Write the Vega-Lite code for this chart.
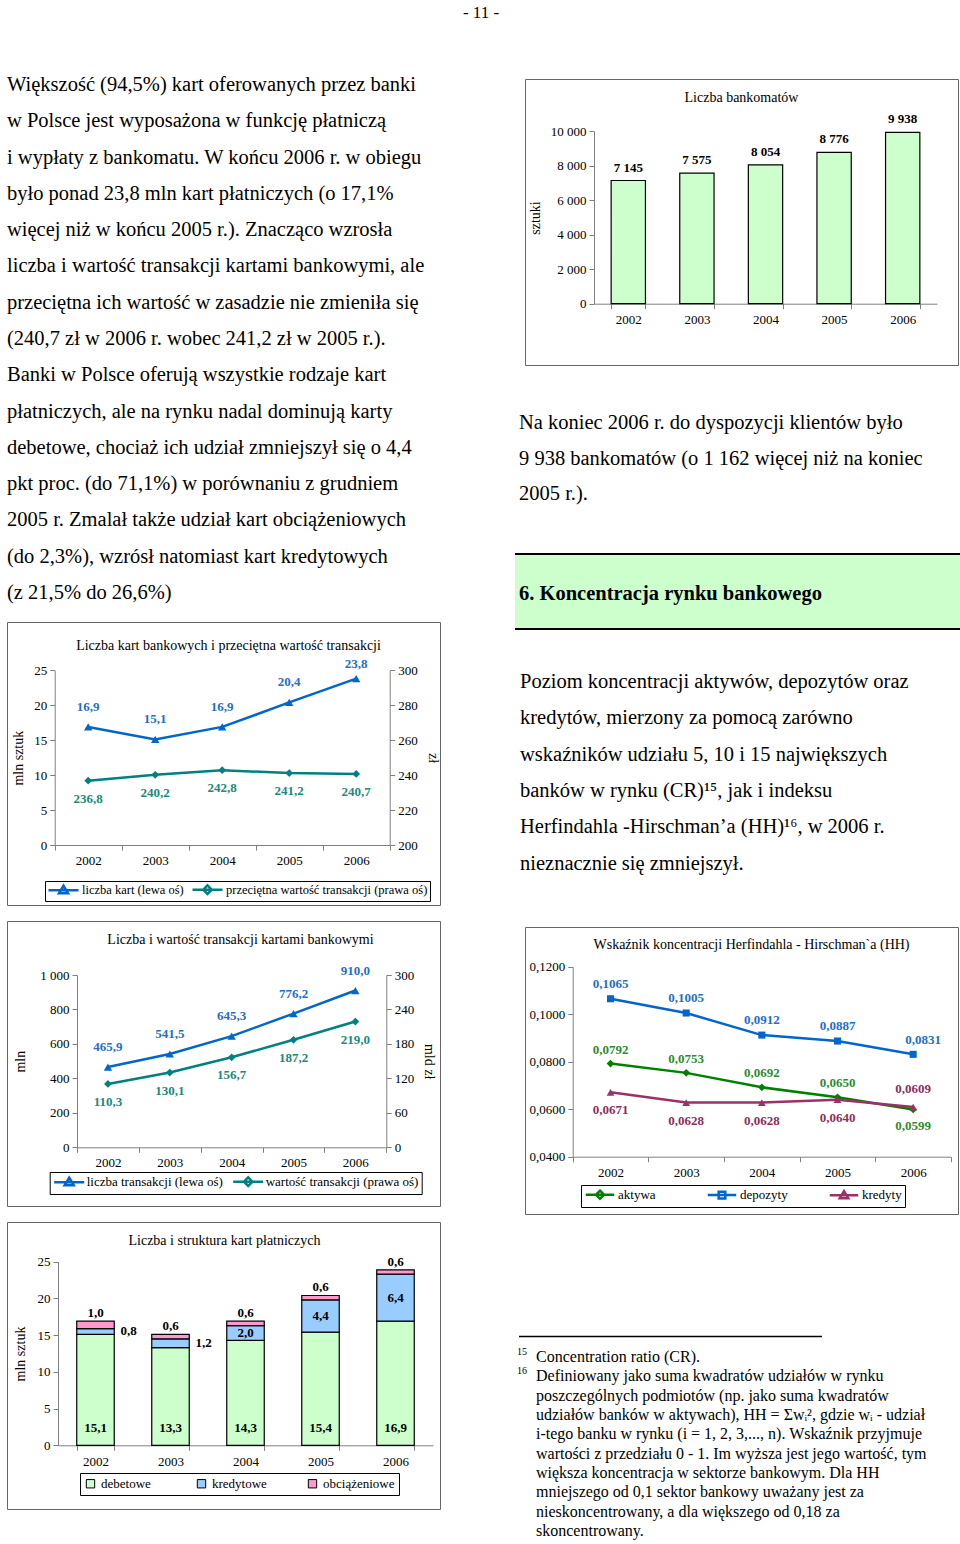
{
"$schema": "https://vega.github.io/schema/vega-lite/v6.json",
"padding": {"left": 6, "top": 0, "right": 2, "bottom": 0},
"config": {
  "font": "Liberation Serif",
  "view": {"stroke": null},
  "axis": {"labelFont": "Liberation Serif", "labelFontSize": 13, "labelColor": "#000", "titleFont": "Liberation Serif", "titleFontSize": 14, "titleFontWeight": "normal", "titleColor": "#000", "domainColor": "#808080", "tickColor": "#808080", "tickSize": 5, "grid": false, "labelPadding": 3},
  "legend": {"labelFont": "Liberation Serif", "labelFontSize": 13, "labelColor": "#000", "labelLimit": 400},
  "title": {"font": "Liberation Serif", "fontSize": 14, "fontWeight": "normal", "color": "#000", "anchor": "middle"},
  "text": {"font": "Liberation Serif", "color": "#000"},
  "locale": {"number": {"decimal": ",", "thousands": " ", "grouping": [3], "currency": ["", ""]}}
},
"spacing": 0,
"resolve": {"scale": {"fill": "independent", "stroke": "independent", "shape": "independent", "color": "independent"}, "legend": {"fill": "independent", "stroke": "independent", "shape": "independent", "color": "independent"}},
"vconcat": [
  {
    "width": 950, "height": 40,
    "data": {"values": [{"t": "- 11 -"}]},
    "mark": {"type": "text", "fontSize": 17, "align": "center", "baseline": "middle"},
    "encoding": {"text": {"field": "t"}, "x": {"value": 474}, "y": {"value": 13}}
  },
  {
    "spacing": 57,
    "resolve": {"scale": {"fill": "independent", "stroke": "independent", "shape": "independent", "color": "independent"}, "legend": {"fill": "independent", "stroke": "independent", "shape": "independent", "color": "independent"}},
    "hconcat": [
      {
        "spacing": 14,
        "resolve": {"scale": {"fill": "independent", "stroke": "independent", "shape": "independent", "color": "independent"}, "legend": {"fill": "independent", "stroke": "independent", "shape": "independent", "color": "independent"}},
        "vconcat": [
          {
            "width": 450, "height": 567,
            "data": {"values": [
              {"linia": 1, "tekst": "Większość (94,5%) kart oferowanych przez banki"},
              {"linia": 2, "tekst": "w Polsce jest wyposażona w funkcję płatniczą"},
              {"linia": 3, "tekst": "i wypłaty z bankomatu. W końcu 2006 r. w obiegu"},
              {"linia": 4, "tekst": "było ponad 23,8 mln kart płatniczych (o 17,1%"},
              {"linia": 5, "tekst": "więcej niż w końcu 2005 r.). Znacząco wzrosła"},
              {"linia": 6, "tekst": "liczba i wartość transakcji kartami bankowymi, ale"},
              {"linia": 7, "tekst": "przeciętna ich wartość w zasadzie nie zmieniła się"},
              {"linia": 8, "tekst": "(240,7 zł w 2006 r. wobec 241,2 zł w 2005 r.)."},
              {"linia": 9, "tekst": "Banki w Polsce oferują wszystkie rodzaje kart"},
              {"linia": 10, "tekst": "płatniczych, ale na rynku nadal dominują karty"},
              {"linia": 11, "tekst": "debetowe, chociaż ich udział zmniejszył się o 4,4"},
              {"linia": 12, "tekst": "pkt proc. (do 71,1%) w porównaniu z grudniem"},
              {"linia": 13, "tekst": "2005 r. Zmalał także udział kart obciążeniowych"},
              {"linia": 14, "tekst": "(do 2,3%), wzrósł natomiast kart kredytowych"},
              {"linia": 15, "tekst": "(z 21,5% do 26,6%)"}
            ]},
            "mark": {"type": "text", "align": "left", "baseline": "middle", "fontSize": 20.5},
            "encoding": {
              "x": {"value": 0},
              "y": {"field": "linia", "type": "quantitative", "scale": {"domain": [1, 15], "range": [45, 553]}, "axis": null},
              "text": {"field": "tekst"}
            }
          },
          {
            "width": 433, "height": 283,
            "view": {"stroke": "#666"},
            "title": {"text": "Liczba kart bankowych i przeciętna wartość transakcji", "offset": -31, "dx": 5},
            "data": {"values": [
              {"rok": "2002", "seria": "liczba kart (lewa oś)", "w": 16.9},
              {"rok": "2003", "seria": "liczba kart (lewa oś)", "w": 15.1},
              {"rok": "2004", "seria": "liczba kart (lewa oś)", "w": 16.9},
              {"rok": "2005", "seria": "liczba kart (lewa oś)", "w": 20.4},
              {"rok": "2006", "seria": "liczba kart (lewa oś)", "w": 23.8},
              {"rok": "2002", "seria": "przeciętna wartość transakcji (prawa oś)", "w": 236.8},
              {"rok": "2003", "seria": "przeciętna wartość transakcji (prawa oś)", "w": 240.2},
              {"rok": "2004", "seria": "przeciętna wartość transakcji (prawa oś)", "w": 242.8},
              {"rok": "2005", "seria": "przeciętna wartość transakcji (prawa oś)", "w": 241.2},
              {"rok": "2006", "seria": "przeciętna wartość transakcji (prawa oś)", "w": 240.7}
            ]},
            "encoding": {
              "x": {"field": "rok", "type": "ordinal", "bandPosition": 0.5, "scale": {"type": "band", "range": [47.7, 382.7], "paddingInner": 0, "paddingOuter": 0}, "axis": {"title": null, "labelAngle": 0, "tickBand": "extent", "offset": -60, "labelPadding": 4}}
            },
            "layer": [
              {
                "transform": [{"filter": "datum.seria == 'liczba kart (lewa oś)'"}],
                "encoding": {"y": {"field": "w", "type": "quantitative", "scale": {"domain": [0, 25], "range": [223, 48.3], "nice": false, "zero": false}, "axis": {"title": "mln sztuk", "offset": -47.7, "values": [0, 5, 10, 15, 20, 25], "titlePadding": 8}}},
                "layer": [
                  {"mark": {"type": "line", "color": "#0066cc", "strokeWidth": 2.5, "point": {"shape": "triangle-up", "size": 70, "filled": true, "color": "#0066cc"}}},
                  {"transform": [{"filter": "datum.rok != '2006'"}], "mark": {"type": "text", "color": "#1f6fc8", "fontWeight": "bold", "fontSize": 13, "baseline": "middle", "dy": -20}, "encoding": {"text": {"field": "w", "format": ".1f"}}},
                  {"transform": [{"filter": "datum.rok == '2006'"}], "mark": {"type": "text", "color": "#1f6fc8", "fontWeight": "bold", "fontSize": 13, "baseline": "middle", "dy": -15}, "encoding": {"text": {"field": "w", "format": ".1f"}}}
                ]
              },
              {
                "transform": [{"filter": "datum.seria != 'liczba kart (lewa oś)'"}],
                "encoding": {"y": {"field": "w", "type": "quantitative", "scale": {"domain": [200, 300], "range": [223, 48.3], "nice": false, "zero": false}, "axis": {"title": "zł", "orient": "right", "offset": -50.3, "values": [200, 220, 240, 260, 280, 300], "titlePadding": 8}}},
                "layer": [
                  {"mark": {"type": "line", "color": "#008080", "strokeWidth": 2.5, "point": {"shape": "diamond", "size": 60, "filled": true, "color": "#008080"}}},
                  {"mark": {"type": "text", "color": "#1a8a7e", "fontWeight": "bold", "fontSize": 13, "baseline": "middle", "dy": 18}, "encoding": {"text": {"field": "w", "format": ".1f"}}}
                ]
              },
              {
                "mark": {"type": "point", "opacity": 0, "filled": true},
                "encoding": {
                  "fill": {"field": "seria", "type": "nominal", "scale": {"domain": ["liczba kart (lewa oś)", "przeciętna wartość transakcji (prawa oś)"], "range": ["#0066cc", "#008080"]},
                    "legend": {"orient": "none", "legendX": 38, "legendY": 259, "direction": "horizontal", "title": null, "strokeColor": "#000", "padding": 2, "columnPadding": 3, "symbolSize": 100, "symbolStrokeWidth": 2.5, "symbolOpacity": 1, "labelOffset": 22, "labelFontSize": 12.5}},
                  "stroke": {"field": "seria", "type": "nominal", "scale": {"domain": ["liczba kart (lewa oś)", "przeciętna wartość transakcji (prawa oś)"], "range": ["#0066cc", "#008080"]}},
                  "shape": {"field": "seria", "type": "nominal", "scale": {"domain": ["liczba kart (lewa oś)", "przeciętna wartość transakcji (prawa oś)"], "range": ["M-1,0H5M2,-0.9L2.9,0.6L1.1,0.6Z", "M-1,0H5M2,-0.85L2.85,0L2,0.85L1.15,0Z"]}}
                }
              }
            ],
            "resolve": {"scale": {"y": "independent"}}
          },
          {
            "width": 433, "height": 285,
            "view": {"stroke": "#666"},
            "title": {"text": "Liczba i wartość transakcji kartami bankowymi", "offset": -26, "dx": 17},
            "data": {"values": [
              {"rok": "2002", "seria": "liczba transakcji (lewa oś)", "w": 465.9},
              {"rok": "2003", "seria": "liczba transakcji (lewa oś)", "w": 541.5},
              {"rok": "2004", "seria": "liczba transakcji (lewa oś)", "w": 645.3},
              {"rok": "2005", "seria": "liczba transakcji (lewa oś)", "w": 776.2},
              {"rok": "2006", "seria": "liczba transakcji (lewa oś)", "w": 910.0},
              {"rok": "2002", "seria": "wartość transakcji (prawa oś)", "w": 110.3},
              {"rok": "2003", "seria": "wartość transakcji (prawa oś)", "w": 130.1},
              {"rok": "2004", "seria": "wartość transakcji (prawa oś)", "w": 156.7},
              {"rok": "2005", "seria": "wartość transakcji (prawa oś)", "w": 187.2},
              {"rok": "2006", "seria": "wartość transakcji (prawa oś)", "w": 219.0}
            ]},
            "encoding": {
              "x": {"field": "rok", "type": "ordinal", "bandPosition": 0.5, "scale": {"type": "band", "range": [70, 379.3], "paddingInner": 0, "paddingOuter": 0}, "axis": {"title": null, "labelAngle": 0, "tickBand": "extent", "offset": -58.7, "labelPadding": 4}}
            },
            "layer": [
              {
                "transform": [{"filter": "datum.seria == 'liczba transakcji (lewa oś)'"}],
                "encoding": {"y": {"field": "w", "type": "quantitative", "scale": {"domain": [0, 1000], "range": [226.3, 54], "nice": false}, "axis": {"title": "mln", "offset": -70, "values": [0, 200, 400, 600, 800, 1000], "format": ",d", "titlePadding": 12}}},
                "layer": [
                  {"mark": {"type": "line", "color": "#0066cc", "strokeWidth": 2.5, "point": {"shape": "triangle-up", "size": 70, "filled": true, "color": "#0066cc"}}},
                  {"mark": {"type": "text", "color": "#1f6fc8", "fontWeight": "bold", "fontSize": 13, "baseline": "middle", "dy": -20}, "encoding": {"text": {"field": "w", "format": ".1f"}}}
                ]
              },
              {
                "transform": [{"filter": "datum.seria != 'liczba transakcji (lewa oś)'"}],
                "encoding": {"y": {"field": "w", "type": "quantitative", "scale": {"domain": [0, 300], "range": [226.3, 54], "nice": false}, "axis": {"title": "mld zł", "orient": "right", "offset": -53.7, "values": [0, 60, 120, 180, 240, 300], "titlePadding": 8}}},
                "layer": [
                  {"mark": {"type": "line", "color": "#008080", "strokeWidth": 2.5, "point": {"shape": "diamond", "size": 60, "filled": true, "color": "#008080"}}},
                  {"mark": {"type": "text", "color": "#1a8a7e", "fontWeight": "bold", "fontSize": 13, "baseline": "middle", "dy": 18}, "encoding": {"text": {"field": "w", "format": ".1f"}}}
                ]
              },
              {
                "mark": {"type": "point", "opacity": 0, "filled": true},
                "encoding": {
                  "fill": {"field": "seria", "type": "nominal", "scale": {"domain": ["liczba transakcji (lewa oś)", "wartość transakcji (prawa oś)"], "range": ["#0066cc", "#008080"]},
                    "legend": {"orient": "none", "legendX": 42.7, "legendY": 251, "direction": "horizontal", "title": null, "strokeColor": "#000", "padding": 3, "columnPadding": 4, "symbolSize": 100, "symbolStrokeWidth": 2.5, "symbolOpacity": 1, "labelOffset": 21}},
                  "stroke": {"field": "seria", "type": "nominal", "scale": {"domain": ["liczba transakcji (lewa oś)", "wartość transakcji (prawa oś)"], "range": ["#0066cc", "#008080"]}},
                  "shape": {"field": "seria", "type": "nominal", "scale": {"domain": ["liczba transakcji (lewa oś)", "wartość transakcji (prawa oś)"], "range": ["M-1,0H5M2,-0.9L2.9,0.6L1.1,0.6Z", "M-1,0H5M2,-0.85L2.85,0L2,0.85L1.15,0Z"]}}
                }
              }
            ],
            "resolve": {"scale": {"y": "independent"}}
          },
          {
            "width": 433, "height": 287,
            "view": {"stroke": "#666"},
            "title": {"text": "Liczba i struktura kart płatniczych", "offset": -26, "dx": 1},
            "data": {"values": [
              {"rok": "2002", "typ": "debetowe", "w": 15.1},
              {"rok": "2003", "typ": "debetowe", "w": 13.3},
              {"rok": "2004", "typ": "debetowe", "w": 14.3},
              {"rok": "2005", "typ": "debetowe", "w": 15.4},
              {"rok": "2006", "typ": "debetowe", "w": 16.9},
              {"rok": "2002", "typ": "kredytowe", "w": 0.8},
              {"rok": "2003", "typ": "kredytowe", "w": 1.2},
              {"rok": "2004", "typ": "kredytowe", "w": 2.0},
              {"rok": "2005", "typ": "kredytowe", "w": 4.4},
              {"rok": "2006", "typ": "kredytowe", "w": 6.4},
              {"rok": "2002", "typ": "obciążeniowe", "w": 1.0},
              {"rok": "2003", "typ": "obciążeniowe", "w": 0.6},
              {"rok": "2004", "typ": "obciążeniowe", "w": 0.6},
              {"rok": "2005", "typ": "obciążeniowe", "w": 0.6},
              {"rok": "2006", "typ": "obciążeniowe", "w": 0.6}
            ]},
            "transform": [{"stack": "w", "groupby": ["rok"], "sort": [{"field": "typ", "order": "ascending"}], "as": ["v0", "v1"]}],
            "layer": [
              {
                "mark": {"type": "bar", "stroke": "#000", "strokeWidth": 1.2},
                "encoding": {
                  "x": {"field": "rok", "type": "ordinal", "scale": {"type": "band", "range": [51, 426], "paddingInner": 0.5, "paddingOuter": 0.25}, "axis": {"title": null, "labelAngle": 0, "tickBand": "extent", "offset": -63.7, "labelPadding": 5}},
                  "y": {"field": "v1", "type": "quantitative", "scale": {"domain": [0, 25], "range": [223.3, 39.7], "nice": false}, "axis": {"title": "mln sztuk", "offset": -51, "values": [0, 5, 10, 15, 20, 25], "titlePadding": 10}},
                  "y2": {"field": "v0"},
                  "fill": {"field": "typ", "type": "nominal", "scale": {"domain": ["debetowe", "kredytowe", "obciążeniowe"], "range": ["#ccffcc", "#99ccff", "#ff99cc"]},
                    "legend": {"orient": "none", "legendX": 73, "legendY": 251, "direction": "horizontal", "title": null, "strokeColor": "#000", "padding": 4, "columnPadding": 22, "gridAlign": "all", "symbolType": "square", "symbolSize": 70, "symbolStrokeColor": "#000", "symbolStrokeWidth": 1}}
                }
              },
              {
                "transform": [{"filter": "datum.typ == 'debetowe'"}],
                "mark": {"type": "text", "fontWeight": "bold", "fontSize": 13, "baseline": "middle", "dy": -17},
                "encoding": {
                  "x": {"field": "rok", "type": "ordinal", "bandPosition": 0.5},
                  "y": {"field": "v0", "type": "quantitative"},
                  "text": {"field": "w", "format": ".1f"}
                }
              },
              {
                "transform": [
                  {"filter": "datum.typ == 'kredytowe' && datum.rok >= '2004'"},
                  {"fold": ["v0", "v1"], "as": ["k", "v"]},
                  {"aggregate": [{"op": "mean", "field": "v", "as": "mid"}], "groupby": ["rok", "w"]}
                ],
                "mark": {"type": "text", "fontWeight": "bold", "fontSize": 13, "baseline": "middle"},
                "encoding": {
                  "x": {"field": "rok", "type": "ordinal", "bandPosition": 0.5},
                  "y": {"field": "mid", "type": "quantitative"},
                  "text": {"field": "w", "format": ".1f"}
                }
              },
              {
                "transform": [
                  {"filter": "datum.typ == 'kredytowe' && datum.rok < '2004'"},
                  {"fold": ["v0", "v1"], "as": ["k", "v"]},
                  {"aggregate": [{"op": "mean", "field": "v", "as": "mid"}], "groupby": ["rok", "w"]}
                ],
                "mark": {"type": "text", "fontWeight": "bold", "fontSize": 13, "baseline": "middle", "dx": 33},
                "encoding": {
                  "x": {"field": "rok", "type": "ordinal", "bandPosition": 0.5},
                  "y": {"field": "mid", "type": "quantitative"},
                  "text": {"field": "w", "format": ".1f"}
                }
              },
              {
                "transform": [{"filter": "datum.typ == 'obciążeniowe'"}],
                "mark": {"type": "text", "fontWeight": "bold", "fontSize": 13, "baseline": "middle", "dy": -8},
                "encoding": {
                  "x": {"field": "rok", "type": "ordinal", "bandPosition": 0.5},
                  "y": {"field": "v1", "type": "quantitative"},
                  "text": {"field": "w", "format": ".1f"}
                }
              }
            ]
          }
        ]
      },
      {
        "spacing": 0,
        "resolve": {"scale": {"fill": "independent", "stroke": "independent", "shape": "independent", "color": "independent"}, "legend": {"fill": "independent", "stroke": "independent", "shape": "independent", "color": "independent"}},
        "vconcat": [
          {"width": 10, "height": 38, "data": {"values": []}, "mark": "point"},
          {
            "spacing": 0,
            "hconcat": [
              {"width": 9, "height": 20, "data": {"values": []}, "mark": "point"},
              {
                "width": 433, "height": 286,
                "view": {"stroke": "#666"},
                "title": {"text": "Liczba bankomatów", "offset": -26},
                "data": {"values": [
                  {"rok": "2002", "liczba": 7145},
                  {"rok": "2003", "liczba": 7575},
                  {"rok": "2004", "liczba": 8054},
                  {"rok": "2005", "liczba": 8776},
                  {"rok": "2006", "liczba": 9938}
                ]},
                "layer": [
                  {
                    "mark": {"type": "bar", "fill": "#ccffcc", "stroke": "#000", "strokeWidth": 1.2},
                    "encoding": {
                      "x": {"field": "rok", "type": "ordinal", "scale": {"type": "band", "range": [69, 412], "paddingInner": 0.5, "paddingOuter": 0.25}, "axis": {"title": null, "labelAngle": 0, "tickBand": "extent", "offset": -61.3, "labelPadding": 5}},
                      "y": {"field": "liczba", "type": "quantitative", "scale": {"domain": [0, 10000], "range": [224.7, 52.3], "nice": false}, "axis": {"title": "sztuki", "offset": -69, "values": [0, 2000, 4000, 6000, 8000, 10000], "format": ",d", "titlePadding": 8}}
                    }
                  },
                  {
                    "mark": {"type": "text", "fontWeight": "bold", "fontSize": 13, "baseline": "middle", "dy": -13},
                    "encoding": {
                      "x": {"field": "rok", "type": "ordinal", "bandPosition": 0.5},
                      "y": {"field": "liczba", "type": "quantitative"},
                      "text": {"field": "liczba", "format": ",d"}
                    }
                  }
                ]
              }
            ]
          },
          {
            "width": 445, "height": 187,
            "data": {"values": [
              {"linia": 1, "tekst": "Na koniec 2006 r. do dyspozycji klientów było"},
              {"linia": 2, "tekst": "9 938 bankomatów (o 1 162 więcej niż na koniec"},
              {"linia": 3, "tekst": "2005 r.)."}
            ]},
            "mark": {"type": "text", "align": "left", "baseline": "middle", "fontSize": 20.5},
            "encoding": {
              "x": {"value": 4},
              "y": {"field": "linia", "type": "quantitative", "scale": {"domain": [1, 3], "range": [57, 128]}, "axis": null},
              "text": {"field": "tekst"}
            }
          },
          {
            "width": 445, "height": 77,
            "view": {"fill": "#ccffcc", "stroke": null},
            "layer": [
              {
                "data": {"values": [{"tekst": "6. Koncentracja rynku bankowego"}]},
                "mark": {"type": "text", "align": "left", "baseline": "middle", "fontSize": 20.5, "fontWeight": "bold"},
                "encoding": {"x": {"value": 4}, "y": {"value": 41}, "text": {"field": "tekst"}}
              },
              {
                "data": {"values": [{}]},
                "mark": {"type": "rule", "color": "#000", "strokeWidth": 2},
                "encoding": {"y": {"value": 1}}
              },
              {
                "data": {"values": [{}]},
                "mark": {"type": "rule", "color": "#000", "strokeWidth": 2},
                "encoding": {"y": {"value": 76}}
              }
            ]
          },
          {
            "width": 445, "height": 296,
            "data": {"values": [
              {"linia": 1, "tekst": "Poziom koncentracji aktywów, depozytów oraz"},
              {"linia": 2, "tekst": "kredytów, mierzony za pomocą zarówno"},
              {"linia": 3, "tekst": "wskaźników udziału 5, 10 i 15 największych"},
              {"linia": 4, "tekst": "banków w rynku (CR)¹⁵, jak i indeksu"},
              {"linia": 5, "tekst": "Herfindahla -Hirschman’a (HH)¹⁶, w 2006 r."},
              {"linia": 6, "tekst": "nieznacznie się zmniejszył."}
            ]},
            "mark": {"type": "text", "align": "left", "baseline": "middle", "fontSize": 20.5},
            "encoding": {
              "x": {"value": 5},
              "y": {"field": "linia", "type": "quantitative", "scale": {"domain": [1, 6], "range": [52, 233.5]}, "axis": null},
              "text": {"field": "tekst"}
            }
          },
          {
            "spacing": 0,
            "hconcat": [
              {"width": 9, "height": 20, "data": {"values": []}, "mark": "point"},
              {
                "width": 433, "height": 287,
                "view": {"stroke": "#666"},
                "title": {"text": "Wskaźnik koncentracji Herfindahla - Hirschman`a (HH)", "offset": -25, "dx": 10},
                "data": {"values": [
                  {"rok": "2002", "seria": "aktywa", "w": 0.0792},
                  {"rok": "2003", "seria": "aktywa", "w": 0.0753},
                  {"rok": "2004", "seria": "aktywa", "w": 0.0692},
                  {"rok": "2005", "seria": "aktywa", "w": 0.0650},
                  {"rok": "2006", "seria": "aktywa", "w": 0.0599},
                  {"rok": "2002", "seria": "depozyty", "w": 0.1065},
                  {"rok": "2003", "seria": "depozyty", "w": 0.1005},
                  {"rok": "2004", "seria": "depozyty", "w": 0.0912},
                  {"rok": "2005", "seria": "depozyty", "w": 0.0887},
                  {"rok": "2006", "seria": "depozyty", "w": 0.0831},
                  {"rok": "2002", "seria": "kredyty", "w": 0.0671},
                  {"rok": "2003", "seria": "kredyty", "w": 0.0628},
                  {"rok": "2004", "seria": "kredyty", "w": 0.0628},
                  {"rok": "2005", "seria": "kredyty", "w": 0.0640},
                  {"rok": "2006", "seria": "kredyty", "w": 0.0609}
                ]},
                "encoding": {
                  "x": {"field": "rok", "type": "ordinal", "bandPosition": 0.5, "scale": {"type": "band", "range": [47.7, 426], "paddingInner": 0, "paddingOuter": 0}, "axis": {"title": null, "labelAngle": 0, "tickBand": "extent", "offset": -57.3, "labelPadding": 5}},
                  "y": {"field": "w", "type": "quantitative", "scale": {"domain": [0.04, 0.12], "range": [229.7, 39.7], "nice": false, "zero": false}, "axis": {"title": null, "offset": -47.7, "values": [0.04, 0.06, 0.08, 0.1, 0.12], "format": ".4f"}}
                },
                "layer": [
                  {
                    "transform": [{"filter": "datum.seria == 'depozyty'"}],
                    "layer": [
                      {"mark": {"type": "line", "color": "#0066cc", "strokeWidth": 2.5, "point": {"shape": "square", "size": 50, "filled": true, "color": "#0066cc"}}},
                      {"transform": [{"filter": "datum.rok != '2006'"}], "mark": {"type": "text", "color": "#1f6fc8", "fontWeight": "bold", "fontSize": 13, "baseline": "middle", "dy": -15}, "encoding": {"text": {"field": "w", "format": ".4f"}}},
                      {"transform": [{"filter": "datum.rok == '2006'"}], "mark": {"type": "text", "color": "#1f6fc8", "fontWeight": "bold", "fontSize": 13, "baseline": "middle", "dy": -14, "dx": 10}, "encoding": {"text": {"field": "w", "format": ".4f"}}}
                    ]
                  },
                  {
                    "transform": [{"filter": "datum.seria == 'aktywa'"}],
                    "layer": [
                      {"mark": {"type": "line", "color": "#008000", "strokeWidth": 2.5, "point": {"shape": "diamond", "size": 60, "filled": true, "color": "#008000"}}},
                      {"transform": [{"filter": "datum.rok != '2006'"}], "mark": {"type": "text", "color": "#2e8b2e", "fontWeight": "bold", "fontSize": 13, "baseline": "middle", "dy": -14}, "encoding": {"text": {"field": "w", "format": ".4f"}}},
                      {"transform": [{"filter": "datum.rok == '2006'"}], "mark": {"type": "text", "color": "#2e8b2e", "fontWeight": "bold", "fontSize": 13, "baseline": "middle", "dy": 17}, "encoding": {"text": {"field": "w", "format": ".4f"}}}
                    ]
                  },
                  {
                    "transform": [{"filter": "datum.seria == 'kredyty'"}],
                    "layer": [
                      {"mark": {"type": "line", "color": "#993366", "strokeWidth": 2.5, "point": {"shape": "triangle-up", "size": 60, "filled": true, "color": "#993366"}}},
                      {"transform": [{"filter": "datum.rok != '2006'"}], "mark": {"type": "text", "color": "#8e2e5e", "fontWeight": "bold", "fontSize": 13, "baseline": "middle", "dy": 18}, "encoding": {"text": {"field": "w", "format": ".4f"}}},
                      {"transform": [{"filter": "datum.rok == '2006'"}], "mark": {"type": "text", "color": "#8e2e5e", "fontWeight": "bold", "fontSize": 13, "baseline": "middle", "dy": -18}, "encoding": {"text": {"field": "w", "format": ".4f"}}}
                    ]
                  },
                  {
                    "mark": {"type": "point", "opacity": 0, "filled": true},
                    "encoding": {
                      "y": {"datum": 0.08},
                      "fill": {"field": "seria", "type": "nominal", "scale": {"domain": ["aktywa", "depozyty", "kredyty"], "range": ["#008000", "#0066cc", "#993366"]},
                        "legend": {"orient": "none", "legendX": 66, "legendY": 258, "direction": "horizontal", "title": null, "strokeColor": "#000", "padding": 3, "columnPadding": 36, "gridAlign": "all", "symbolSize": 90, "symbolStrokeWidth": 2.5, "symbolOpacity": 1, "labelOffset": 21}},
                      "stroke": {"field": "seria", "type": "nominal", "scale": {"domain": ["aktywa", "depozyty", "kredyty"], "range": ["#008000", "#0066cc", "#993366"]}},
                      "shape": {"field": "seria", "type": "nominal", "scale": {"domain": ["aktywa", "depozyty", "kredyty"], "range": ["M-1,0H5M2,-0.85L2.85,0L2,0.85L1.15,0Z", "M-1,0H5M1.3,-0.7H2.7V0.7H1.3Z", "M-1,0H5M2,-0.9L2.9,0.6L1.1,0.6Z"]}}
                    }
                  }
                ]
              }
            ]
          },
          {
            "width": 445, "height": 329,
            "layer": [
              {
                "data": {"values": [{}]},
                "mark": {"type": "rule", "color": "#000", "strokeWidth": 1.5},
                "encoding": {"x": {"value": 4}, "x2": {"value": 307}, "y": {"value": 121.5}}
              },
              {
                "data": {"values": [
                  {"linia": 1, "tekst": "Concentration ratio (CR)."},
                  {"linia": 2, "tekst": "Definiowany jako suma kwadratów udziałów w rynku"},
                  {"linia": 3, "tekst": "poszczególnych podmiotów (np. jako suma kwadratów"},
                  {"linia": 4, "tekst": "udziałów banków w aktywach), HH = Σwᵢ², gdzie wᵢ - udział"},
                  {"linia": 5, "tekst": "i-tego banku w rynku (i = 1, 2, 3,..., n). Wskaźnik przyjmuje"},
                  {"linia": 6, "tekst": "wartości z przedziału 0 - 1. Im wyższa jest jego wartość, tym"},
                  {"linia": 7, "tekst": "większa koncentracja w sektorze bankowym. Dla HH"},
                  {"linia": 8, "tekst": "mniejszego od 0,1 sektor bankowy uważany jest za"},
                  {"linia": 9, "tekst": "nieskoncentrowany, a dla większego od 0,18 za"},
                  {"linia": 10, "tekst": "skoncentrowany."}
                ]},
                "mark": {"type": "text", "align": "left", "baseline": "middle", "fontSize": 16},
                "encoding": {
                  "x": {"value": 21},
                  "y": {"field": "linia", "type": "quantitative", "scale": {"domain": [1, 10], "range": [142, 316]}, "axis": null},
                  "text": {"field": "tekst"}
                }
              },
              {
                "data": {"values": [{"linia": 1, "przypis": "15"}, {"linia": 2, "przypis": "16"}]},
                "mark": {"type": "text", "align": "left", "baseline": "middle", "fontSize": 10, "dy": -5},
                "encoding": {
                  "x": {"value": 2},
                  "y": {"field": "linia", "type": "quantitative"},
                  "text": {"field": "przypis"}
                }
              }
            ]
          }
        ]
      }
    ]
  }
]
}
